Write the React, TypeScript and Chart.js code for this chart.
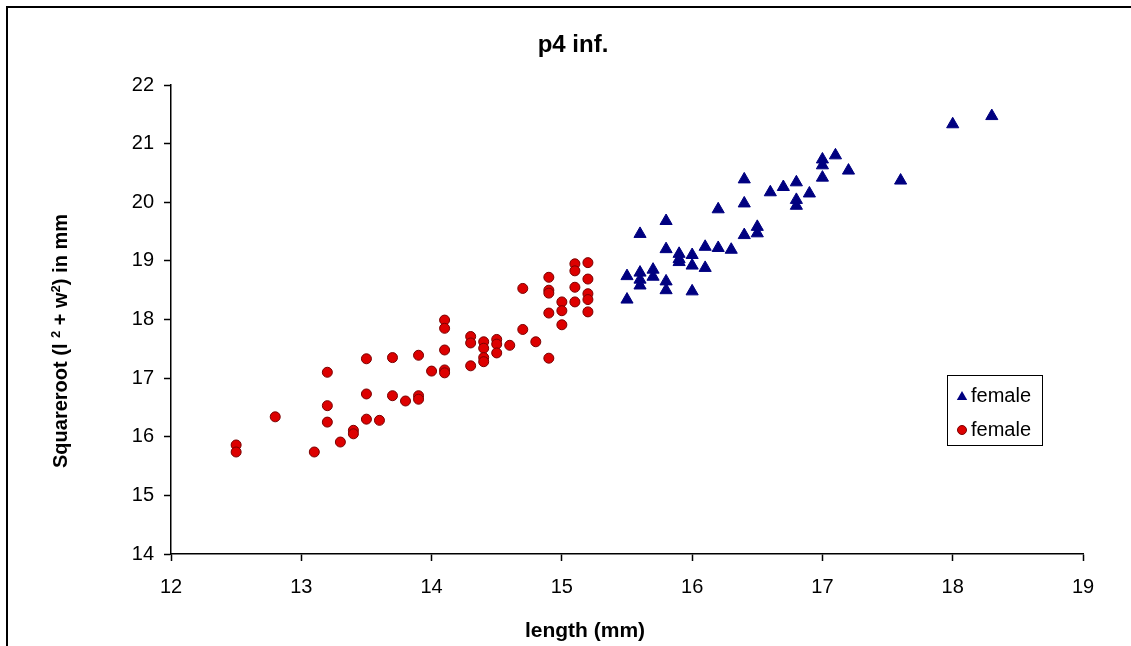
import React, { useEffect, useRef } from "react";
import { Chart, registerables } from "chart.js";

Chart.register(...registerables);

const chartTitle = "p4 inf.";
const xAxisTitle = "length (mm)";
const yAxisTitleParts = [
  { text: "Squareroot (l ", sup: false },
  { text: "2", sup: true },
  { text: " + w", sup: false },
  { text: "2", sup: true },
  { text: ") in mm", sup: false },
];
const legendLabels = ["female", "female"];

const xMin = 12;
const xMax = 19;
const yMin = 14;
const yMax = 22;

// Series 1 (blue triangles)
const blueX = [
  15.5, 15.5, 15.6, 15.6, 15.6, 15.6, 15.7, 15.7, 15.8, 15.8, 15.8, 15.8, 15.9, 15.9, 15.9,
  16.0, 16.0, 16.0, 16.1, 16.1, 16.2, 16.2, 16.3, 16.4, 16.4, 16.4, 16.5, 16.5, 16.6, 16.7,
  16.8, 16.8, 16.8, 16.9, 17.0, 17.0, 17.0, 17.1, 17.2, 17.6, 18.0, 18.3,
];
const blueY = [
  18.34, 18.74, 18.8, 18.68, 18.58, 19.46, 18.85, 18.73, 18.65, 18.5, 19.2, 19.68, 19.12, 19.03, 18.98,
  19.1, 18.92, 18.48, 19.24, 18.88, 19.22, 19.88, 19.19, 19.44, 19.98, 20.39, 19.58, 19.47, 20.17, 20.26,
  20.34, 20.04, 19.94, 20.15, 20.73, 20.63, 20.42, 20.8, 20.54, 20.37, 21.33, 21.47,
];

// Series 2 (red circles)
const redX = [
  12.5, 12.5, 12.8, 13.1, 13.2, 13.2, 13.2, 13.3, 13.4, 13.4, 13.5, 13.5, 13.5, 13.6, 13.7,
  13.7, 13.8, 13.9, 13.9, 13.9, 14.0, 14.1, 14.1, 14.1, 14.1, 14.1, 14.3, 14.3, 14.3, 14.4,
  14.4, 14.4, 14.4, 14.5, 14.5, 14.5, 14.6, 14.7, 14.7, 14.8, 14.9, 14.9, 14.9, 14.9, 14.9,
  15.0, 15.0, 15.0, 15.1, 15.1, 15.1, 15.1, 15.2, 15.2, 15.2, 15.2, 15.2,
];
const redY = [
  15.86, 15.74, 16.34, 15.74, 17.1, 16.53, 16.25, 15.91, 16.11, 16.05, 17.33, 16.73, 16.3, 16.28, 17.35,
  16.7, 16.61, 17.39, 16.7, 16.64, 17.12, 17.99, 17.85, 17.48, 17.14, 17.09, 17.71, 17.6, 17.21, 17.62,
  17.51, 17.35, 17.28, 17.66, 17.58, 17.43, 17.56, 18.53, 17.83, 17.62, 18.72, 18.5, 18.45, 18.11, 17.34,
  18.3, 18.15, 17.91, 18.95, 18.83, 18.55, 18.3, 18.97, 18.69, 18.44, 18.34, 18.13,
];

const BLUE = "#000080";
const RED = "#dd0000";
const RED_BORDER = "#7a0000";
const FONT = "'Liberation Sans', Arial, sans-serif";

const toPoints = (xs: number[], ys: number[]) => xs.map((x, i) => ({ x, y: ys[i] }));

const decorPlugin = {
  id: "decor",
  beforeDraw(chart: any) {
    const ctx = chart.ctx;
    ctx.save();
    ctx.fillStyle = "#ffffff";
    ctx.fillRect(0, 0, chart.width, chart.height);
    ctx.fillStyle = "#000000";
    ctx.fillRect(6, 6, chart.width - 6, 2);
    ctx.fillRect(6, 6, 2, chart.height - 6);
    ctx.restore();
  },
  afterDraw(chart: any) {
    const ctx = chart.ctx;
    ctx.save();
    ctx.fillStyle = "#000000";
    // main title
    ctx.font = `bold 24px ${FONT}`;
    ctx.textAlign = "center";
    ctx.textBaseline = "middle";
    ctx.fillText(chartTitle, 573, 45);
    // x axis title
    ctx.font = `bold 21px ${FONT}`;
    ctx.fillText(xAxisTitle, 585, 631);
    // y axis title (rotated, with superscripts)
    const mainFont = `bold 20px ${FONT}`;
    const supFont = `bold 13px ${FONT}`;
    let total = 0;
    const widths = yAxisTitleParts.map((p) => {
      ctx.font = p.sup ? supFont : mainFont;
      const w = ctx.measureText(p.text).width;
      total += w;
      return w;
    });
    ctx.translate(60, 341);
    ctx.rotate(-Math.PI / 2);
    ctx.textAlign = "left";
    ctx.textBaseline = "alphabetic";
    let cx = -total / 2;
    yAxisTitleParts.forEach((p, i) => {
      ctx.font = p.sup ? supFont : mainFont;
      ctx.fillText(p.text, cx, p.sup ? 0 : 7);
      cx += widths[i];
    });
    ctx.restore();

    // legend
    ctx.save();
    ctx.strokeStyle = "#000000";
    ctx.lineWidth = 1;
    ctx.fillStyle = "#ffffff";
    ctx.fillRect(947.5, 375.5, 95, 70);
    ctx.strokeRect(947.5, 375.5, 95, 70);
    // triangle
    ctx.fillStyle = BLUE;
    ctx.beginPath();
    const tr = 6;
    const tx = 962;
    const ty = 397;
    ctx.moveTo(tx, ty - tr);
    ctx.lineTo(tx + tr * 0.866, ty + tr * 0.5);
    ctx.lineTo(tx - tr * 0.866, ty + tr * 0.5);
    ctx.closePath();
    ctx.fill();
    // circle
    ctx.beginPath();
    ctx.arc(962, 430, 4.5, 0, Math.PI * 2);
    ctx.fillStyle = RED;
    ctx.fill();
    ctx.strokeStyle = RED_BORDER;
    ctx.stroke();
    ctx.fillStyle = "#000000";
    ctx.font = `20px ${FONT}`;
    ctx.textAlign = "left";
    ctx.textBaseline = "middle";
    ctx.fillText(legendLabels[0], 971, 396);
    ctx.fillText(legendLabels[1], 971, 430);
    ctx.restore();
  },
};

export default function App() {
  const canvasRef = useRef<HTMLCanvasElement | null>(null);

  useEffect(() => {
    if (!canvasRef.current) return;
    const chart = new Chart(canvasRef.current, {
      type: "scatter",
      data: {
        datasets: [
          {
            label: legendLabels[0],
            data: toPoints(blueX, blueY),
            pointStyle: "triangle",
            pointRadius: 7,
            pointBackgroundColor: BLUE,
            pointBorderColor: BLUE,
            pointBorderWidth: 1,
          },
          {
            label: legendLabels[1],
            data: toPoints(redX, redY),
            pointStyle: "circle",
            pointRadius: 5,
            pointBackgroundColor: RED,
            pointBorderColor: RED_BORDER,
            pointBorderWidth: 1,
          },
        ],
      },
      options: {
        responsive: false,
        animation: false,
        devicePixelRatio: 1,
        layout: { padding: { left: 0, right: 48, top: 85, bottom: 0 } },
        plugins: {
          legend: { display: false },
          title: { display: false },
          tooltip: { enabled: false },
        },
        scales: {
          x: {
            type: "linear",
            min: xMin,
            max: xMax,
            afterFit: (scale: any) => {
              scale.height = 92;
            },
            ticks: {
              stepSize: 1,
              color: "#000000",
              font: { family: FONT, size: 20 },
              padding: 14,
              maxRotation: 0,
            },
            grid: {
              drawOnChartArea: false,
              drawTicks: true,
              tickLength: 7,
              tickColor: "#000000",
              tickWidth: 1.5,
            },
            border: { display: true, color: "#000000", width: 1.5 },
          },
          y: {
            type: "linear",
            min: yMin,
            max: yMax,
            afterFit: (scale: any) => {
              scale.width = 171;
            },
            ticks: {
              stepSize: 1,
              color: "#000000",
              font: { family: FONT, size: 20 },
              padding: 10,
            },
            grid: {
              drawOnChartArea: false,
              drawTicks: true,
              tickLength: 7,
              tickColor: "#000000",
              tickWidth: 1.5,
            },
            border: { display: true, color: "#000000", width: 1.5 },
          },
        },
      },
      plugins: [decorPlugin],
    });
    return () => chart.destroy();
  }, []);

  return (
    <div style={{ position: "fixed", left: 0, top: 0, width: 1131, height: 646, background: "#fff" }}>
      <canvas ref={canvasRef} width={1131} height={646} style={{ width: 1131, height: 646, display: "block" }} />
    </div>
  );
}
